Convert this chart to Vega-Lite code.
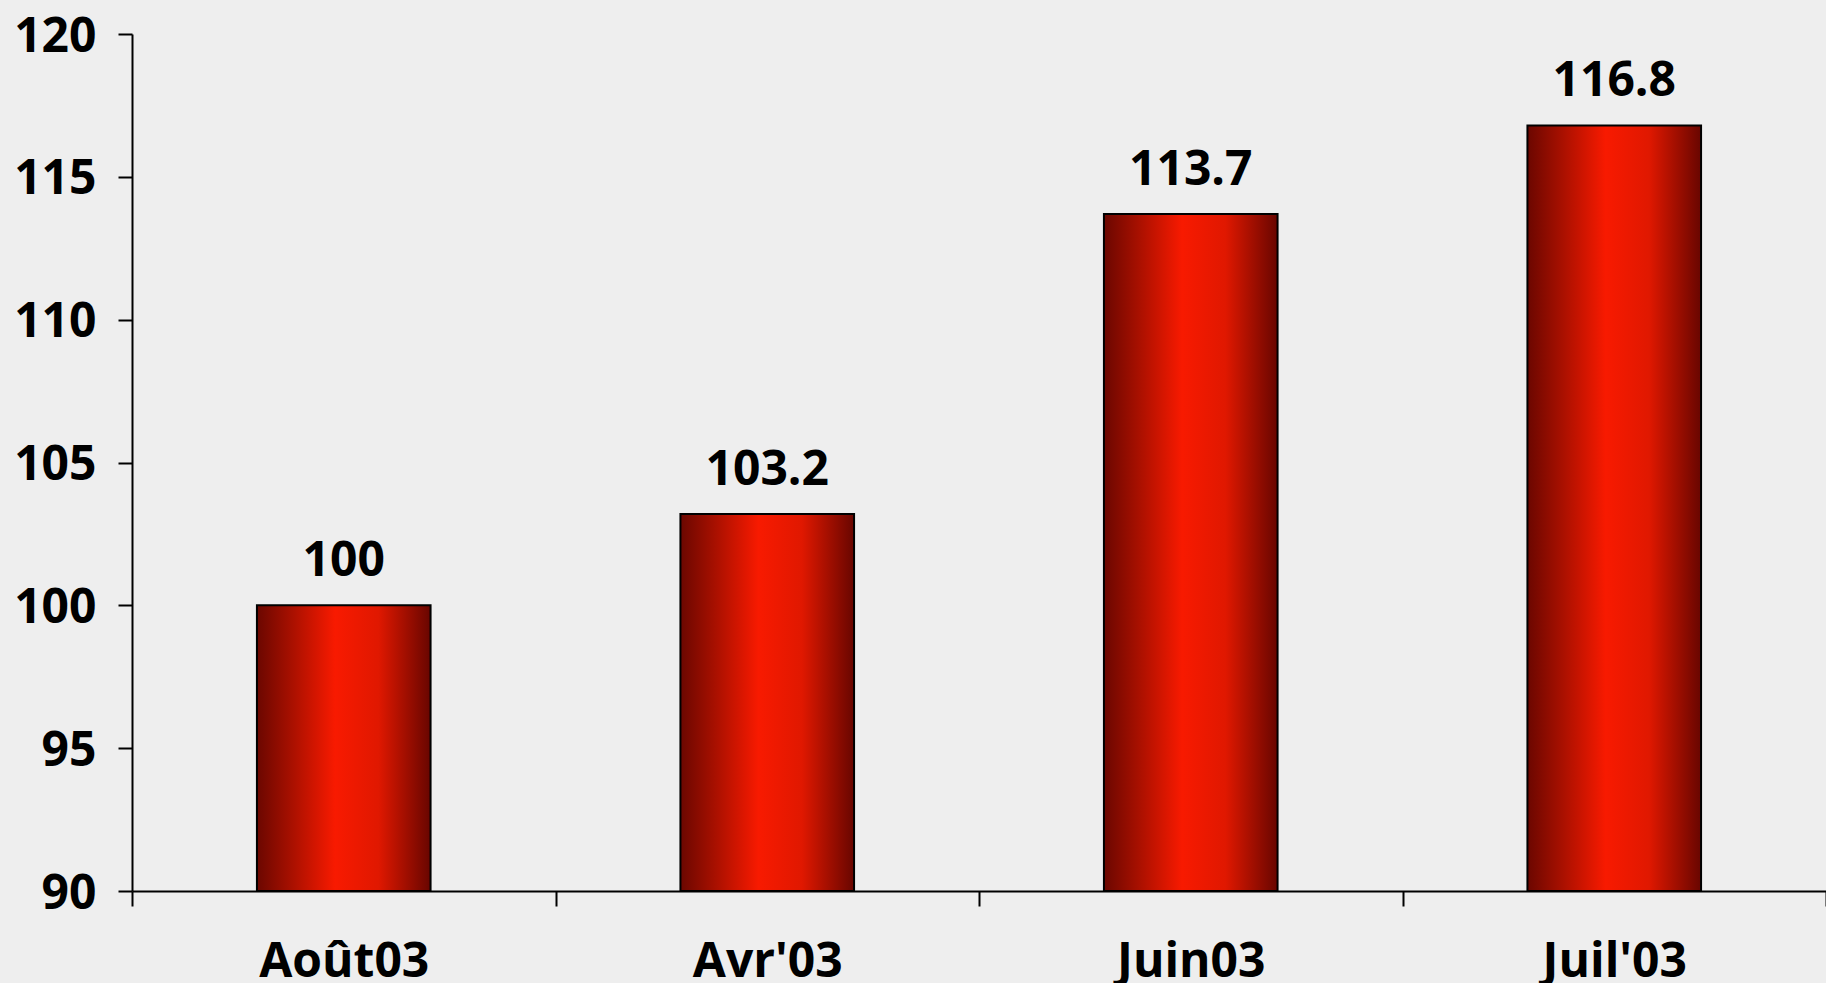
{
  "$schema": "https://vega.github.io/schema/vega-lite/v6.json",
  "autosize": "none",
  "padding": {"left": 132, "top": 34, "right": 0, "bottom": 92},
  "width": 1694,
  "height": 857,
  "background": "#eeeeee",
  "config": {
    "view": {"stroke": null},
    "font": "Open Sans"
  },
  "data": {
    "values": [
      {"mois": "Août03", "indice": 100},
      {"mois": "Avr'03", "indice": 103.2},
      {"mois": "Juin03", "indice": 113.7},
      {"mois": "Juil'03", "indice": 116.8}
    ]
  },
  "encoding": {
    "x": {
      "field": "mois",
      "type": "nominal",
      "sort": null,
      "scale": {"paddingInner": 0, "paddingOuter": 0},
      "axis": {
        "title": null,
        "labelAngle": 0,
        "labelFont": "Open Sans",
        "labelFontSize": 48,
        "labelFontWeight": "bold",
        "labelColor": "#000000",
        "labelBaseline": "alphabetic",
        "labelPadding": 70,
        "tickBand": "extent",
        "tickSize": 15,
        "tickColor": "#000000",
        "tickWidth": 2,
        "domainColor": "#000000",
        "domainWidth": 2,
        "zindex": 1
      }
    },
    "y": {
      "field": "indice",
      "type": "quantitative",
      "scale": {"domain": [90, 120], "nice": false, "zero": false},
      "axis": {
        "title": null,
        "values": [90, 95, 100, 105, 110, 115, 120],
        "grid": false,
        "labelFont": "Open Sans",
        "labelFontSize": 48,
        "labelFontWeight": "bold",
        "labelColor": "#000000",
        "labelPadding": 22,
        "labelOffset": 3,
        "labelFlush": false,
        "tickSize": 14,
        "tickColor": "#000000",
        "tickWidth": 2,
        "domainColor": "#000000",
        "domainWidth": 2
      }
    }
  },
  "layer": [
    {
      "mark": {
        "type": "bar",
        "width": {"band": 0.41},
        "stroke": "#000000",
        "strokeWidth": 2,
        "color": {
          "gradient": "linear",
          "x1": 0, "x2": 1, "y1": 0, "y2": 0,
          "stops": [
            {"offset": 0, "color": "#6b0700"},
            {"offset": 0.2, "color": "#a81000"},
            {"offset": 0.45, "color": "#f81a00"},
            {"offset": 0.7, "color": "#e01800"},
            {"offset": 1, "color": "#680600"}
          ]
        }
      },
      "encoding": {
        "y2": {"datum": 90}
      }
    },
    {
      "mark": {
        "type": "text",
        "baseline": "alphabetic",
        "dy": -29,
        "font": "Open Sans",
        "fontSize": 48,
        "fontWeight": "bold",
        "color": "#000000"
      },
      "encoding": {
        "text": {"field": "indice", "type": "quantitative", "format": "~g"}
      }
    }
  ]
}
